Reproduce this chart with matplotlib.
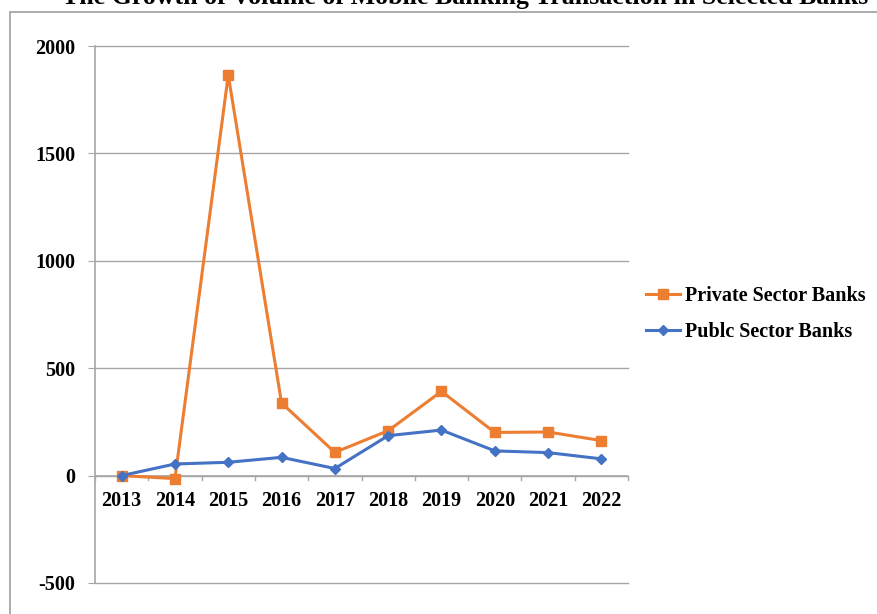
import matplotlib.pyplot as plt
from matplotlib.patches import Rectangle

# Growth of volume of mobile banking transactions (%)
years = ['2013', '2014', '2015', '2016', '2017', '2018', '2019', '2020', '2021', '2022']
private_banks = [0, -14, 1865, 338, 108, 209, 392, 201, 203, 163]
public_banks = [0, 54, 62, 85, 33, 186, 212, 115, 107, 78]
y_ticks = [-500, 0, 500, 1000, 1500, 2000]

plt.rcParams['font.family'] = ['Liberation Serif', 'DejaVu Serif']
plt.rcParams['font.weight'] = 'bold'

fig = plt.figure(figsize=(8.77, 6.14), dpi=100)
ax = fig.add_axes([95 / 877, 1 - 583 / 614, 533 / 877, 537 / 614])

# outer chart-area frame (cropped at right and bottom)
fig.patches.append(Rectangle((10 / 877, -0.1), 1.2, 1 - 12 / 614 + 0.1,
                             transform=fig.transFigure, fill=False,
                             edgecolor='#a6a6a6', linewidth=1.3))

fig.text(465 / 877, 1 - 4 / 614,
         'The Growth of Volume of Mobile Banking Transaction in Selected Banks',
         ha='center', va='baseline', fontsize=18.6, fontweight='bold')

x = list(range(len(years)))
ax.plot(x, private_banks, color='#ed7d31', linewidth=2.2, marker='s',
        markersize=6.5, label='Private Sector Banks', zorder=3)
ax.plot(x, public_banks, color='#4472c4', linewidth=2.2, marker='D',
        markersize=5.5, label='Publc Sector Banks', zorder=3)

ax.set_xlim(-0.5, len(years) - 0.5)
ax.set_ylim(-500, 2000)
ax.set_yticks(y_ticks)
ax.set_yticklabels([str(v) for v in y_ticks], fontsize=14.5, fontweight='bold')
ax.yaxis.grid(True, color='#a6a6a6', linewidth=1)
for gl in ax.yaxis.get_gridlines():
    gl.set_clip_on(False)
ax.set_axisbelow(True)

for s in ['top', 'right', 'bottom']:
    ax.spines[s].set_visible(False)
ax.spines['left'].set_color('#a6a6a6')
ax.spines['left'].set_linewidth(1.2)
ax.tick_params(axis='y', length=5, color='#a6a6a6', pad=9)

# category axis drawn at zero
ax.axhline(0, color='#a6a6a6', linewidth=1.2, zorder=2)
ax.set_xticks([])
for b in range(len(years) + 1):
    ax.plot([b - 0.5, b - 0.5], [0, -22], color='#a6a6a6', linewidth=1,
            clip_on=False, zorder=2)
for i, yr in enumerate(years):
    ax.text(i, -72, yr, ha='center', va='top', fontsize=14.5, fontweight='bold')

ax.legend(loc='center left', bbox_to_anchor=(628 / 877, 1 - 314 / 614),
          bbox_transform=fig.transFigure, frameon=False,
          handlelength=1.7, handletextpad=0.25, labelspacing=0.75,
          prop={'weight': 'bold', 'size': 14.5})

fig.savefig('out.png', dpi=100)
